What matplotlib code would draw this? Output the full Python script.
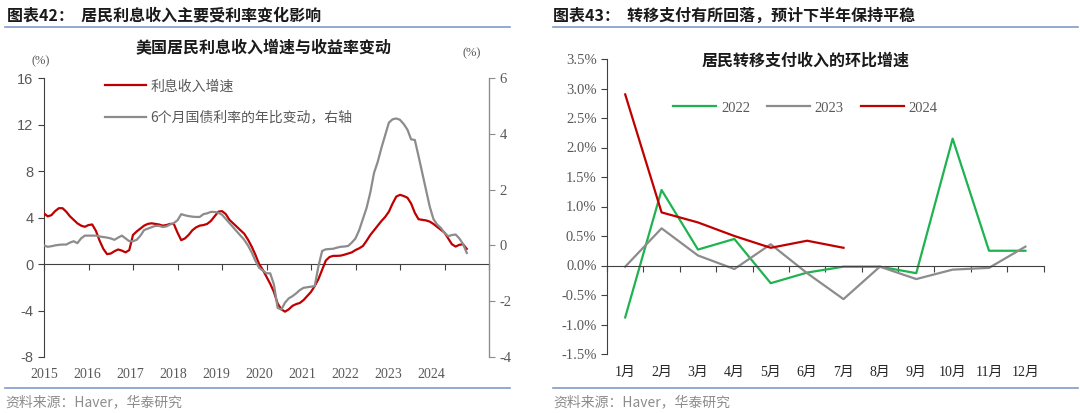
import matplotlib.pyplot as plt
import numpy as np
from matplotlib.lines import Line2D

plt.rcParams['font.family'] = ['Noto Sans CJK SC', 'DejaVu Sans']
plt.rcParams['axes.unicode_minus'] = False

# 左图: 美国居民利息收入增速与收益率变动 (月度, 2015-01 ~ 2024-07)
interest_growth = [
    4.35, 4.1, 4.2, 4.55, 4.8, 4.8, 4.5, 4.1, 3.8, 3.5, 3.3, 3.2,
    3.35, 3.4, 2.85, 2.0, 1.3, 0.85, 0.9, 1.1, 1.25, 1.15, 1.0, 1.2,
    2.5, 2.8, 3.05, 3.3, 3.45, 3.5, 3.45, 3.4, 3.3, 3.35, 3.45, 3.45,
    2.7, 2.05, 2.2, 2.5, 2.9, 3.15, 3.3, 3.35, 3.45, 3.7, 4.1, 4.5,
    4.55, 4.3, 3.8, 3.5, 3.2, 2.9, 2.6, 2.1, 1.5, 0.8, 0.0, -0.5,
    -1.1, -1.7, -2.4, -3.4, -3.9, -4.1, -3.9, -3.6, -3.45, -3.35, -3.1, -2.75,
    -2.4, -1.9, -1.3, -0.5, 0.3, 0.6, 0.7, 0.7, 0.72, 0.8, 0.9, 1.0,
    1.2, 1.35, 1.55, 2.0, 2.5, 2.9, 3.3, 3.7, 4.05, 4.5, 5.2, 5.8,
    5.95, 5.85, 5.7, 5.2, 4.4, 3.85, 3.8, 3.75, 3.65, 3.45, 3.2, 2.95,
    2.7, 2.2, 1.7, 1.5, 1.65, 1.7, 1.3,
]
bill6m_yoy = [
    0.0, -0.05, -0.03, 0.0, 0.02, 0.03, 0.03, 0.1, 0.15, 0.08, 0.25, 0.35,
    0.35, 0.35, 0.35, 0.32, 0.3, 0.28, 0.25, 0.2, 0.28, 0.35, 0.25, 0.15,
    0.15, 0.2, 0.35, 0.55, 0.6, 0.65, 0.7, 0.7, 0.66, 0.68, 0.75, 0.8,
    0.9, 1.12, 1.08, 1.05, 1.03, 1.02, 1.02, 1.12, 1.15, 1.2, 1.2, 1.17,
    1.1, 0.95, 0.8, 0.65, 0.5, 0.35, 0.2, 0.0, -0.25, -0.55, -0.8, -0.9,
    -1.0, -1.0, -1.4, -2.24, -2.3, -2.05, -1.9, -1.82, -1.72, -1.6, -1.52, -1.5,
    -1.48, -1.46, -0.75, -0.2, -0.14, -0.13, -0.12, -0.08, -0.05, -0.04, -0.02, 0.1,
    0.25, 0.55, 0.95, 1.35, 1.9, 2.6, 3.0, 3.5, 3.95, 4.4, 4.52, 4.55,
    4.5, 4.35, 4.15, 3.8, 3.78, 3.2, 2.6, 2.0, 1.4, 0.95, 0.75, 0.63,
    0.45, 0.33, 0.37, 0.39, 0.25, 0.05, -0.27,
]
years = list(range(2015, 2025))

# 右图: 居民转移支付收入的环比增速 (%)
months = ['1月', '2月', '3月', '4月', '5月', '6月', '7月', '8月', '9月', '10月', '11月', '12月']
tr_2022 = [-0.88, 1.28, 0.27, 0.45, -0.3, -0.12, -0.02, -0.02, -0.13, 2.15, 0.25, 0.25]
tr_2023 = [-0.02, 0.63, 0.17, -0.06, 0.36, -0.13, -0.57, -0.02, -0.23, -0.07, -0.04, 0.32]
tr_2024 = [2.9, 0.9, 0.73, 0.5, 0.3, 0.42, 0.3]

RED = '#C00000'
GRAY = '#8C8C8C'
GREEN = '#1FB350'
TXT = '#595959'
SERIF = ['Liberation Serif', 'Noto Sans CJK SC']
SANS = ['Liberation Sans', 'Noto Sans CJK SC']

fig = plt.figure(figsize=(10.8, 4.13), dpi=100)

# 标题和分隔线
fig.text(7 / 1080, 1 - 16 / 413, '图表42：  居民利息收入主要受利率变化影响', fontsize=11.5,
         fontweight='bold', color='#1a1a1a', va='center', ha='left')
fig.text(553 / 1080, 1 - 16 / 413, '图表43：  转移支付有所回落，预计下半年保持平稳', fontsize=11.5,
         fontweight='bold', color='#1a1a1a', va='center', ha='left')
for x0, x1 in [(5, 510), (553, 1078)]:
    for yy in [27, 388]:
        fig.add_artist(Line2D([x0 / 1080, x1 / 1080], [1 - yy / 413] * 2,
                              color='#7F9CC8', lw=1.2))
fig.text(5 / 1080, 1 - 402 / 413, '资料来源：Haver，华泰研究', fontsize=10, color='#8C8C8C',
         va='center', ha='left')
fig.text(553 / 1080, 1 - 402 / 413, '资料来源：Haver，华泰研究', fontsize=10, color='#8C8C8C',
         va='center', ha='left')

# ---------------- 左图 ----------------
ax1 = fig.add_axes([44 / 1080, 1 - 357 / 413, 445 / 1080, 279 / 413])
ax2 = ax1.twinx()
t = 2015 + np.arange(len(interest_growth)) / 12
ax1.plot(t, interest_growth, color=RED, lw=1.6, label='利息收入增速', zorder=3)
ax2.plot(t, bill6m_yoy, color=GRAY, lw=1.6, label='6个月国债利率的年比变动，右轴')

ax1.set_xlim(2015, 2025)
ax1.set_ylim(-8, 16)
ax2.set_ylim(-4, 6)
ax1.set_yticks([-8, -4, 0, 4, 8, 12, 16])
ax2.set_yticks([-4, -2, 0, 2, 4, 6])
ax1.set_xticks(range(2015, 2026))
ax1.set_xticklabels([])
ax1.spines['bottom'].set_position(('data', 0))
for a in (ax1, ax2):
    a.spines['top'].set_visible(False)
ax1.spines['left'].set_color('#404040')
ax1.spines['bottom'].set_color('#404040')
ax2.spines['bottom'].set_visible(False)
ax2.spines['left'].set_visible(False)
ax2.spines['right'].set_color(GRAY)
ax1.tick_params(axis='x', length=4, color='#404040')
ax1.tick_params(axis='y', length=4, color='#404040', labelsize=10.5, labelcolor=TXT)
ax2.tick_params(axis='y', length=4, color=GRAY, labelsize=10.5, labelcolor=TXT)
for lab in ax1.get_yticklabels():
    lab.set_family(SANS)
for lab in ax2.get_yticklabels():
    lab.set_family(SERIF)
for i, y in enumerate(years):
    ax1.text(2015 + i * 0.966, -0.04, str(y), transform=ax1.get_xaxis_transform(),
             ha='center', va='top', fontsize=10, family=SERIF, color=TXT)
ax1.text(-0.008, 1.06, '(%)', transform=ax1.transAxes, ha='center', va='center',
         fontsize=9, color=TXT, family=SERIF)
ax2.text(0.96, 1.09, '(%)', transform=ax2.transAxes, ha='center', va='center',
         fontsize=9, color=TXT, family=SERIF)
ax1.text(0.493, 1.111, '美国居民利息收入增速与收益率变动', transform=ax1.transAxes,
         ha='center', va='center', fontsize=11.5, fontweight='bold', color='#1a1a1a')
h1, l1 = ax1.get_legend_handles_labels()
h2, l2 = ax2.get_legend_handles_labels()
leg = ax2.legend(h1 + h2, l1 + l2, loc='upper left', bbox_to_anchor=(0.11, 1.04),
                 frameon=False, handlelength=2.9, labelspacing=1.25, handletextpad=0.35,
                 fontsize=10)
for tx in leg.get_texts():
    tx.set_color(TXT)

# ---------------- 右图 ----------------
ax3 = fig.add_axes([607 / 1080, 1 - 354 / 413, 436.6 / 1080, 295 / 413])
x = np.arange(len(months))
ax3.plot(x, tr_2022, color=GREEN, lw=1.6, label='2022')
ax3.plot(x, tr_2023, color=GRAY, lw=1.6, label='2023')
ax3.plot(np.arange(len(tr_2024)), tr_2024, color=RED, lw=1.6, label='2024')
ax3.set_xlim(-0.5, 11.5)
ax3.set_ylim(-1.5, 3.5)
ax3.set_yticks(np.arange(-1.5, 3.51, 0.5))
ax3.set_yticklabels([f'{v:.1f}%' for v in np.arange(-1.5, 3.51, 0.5)])
ax3.set_xticks(np.arange(-0.5, 11.6, 1))
ax3.set_xticklabels([])
ax3.spines['bottom'].set_position(('data', 0))
ax3.spines['top'].set_visible(False)
ax3.spines['right'].set_visible(False)
ax3.spines['left'].set_color('#404040')
ax3.spines['bottom'].set_color('#404040')
ax3.tick_params(axis='x', length=4, color='#404040')
ax3.tick_params(axis='y', length=4, color='#404040', labelsize=10.5, labelcolor=TXT)
for lab in ax3.get_yticklabels():
    lab.set_family(SERIF)
for i, m in enumerate(months):
    ax3.text(i, -0.04, m, transform=ax3.get_xaxis_transform(), ha='center', va='top',
             fontsize=10, family=SERIF, color='#262626')
ax3.text(0.455, 0.995, '居民转移支付收入的环比增速', transform=ax3.transAxes,
         ha='center', va='center', fontsize=11.5, fontweight='bold', color='#1a1a1a')
leg3 = ax3.legend(loc='center', bbox_to_anchor=(0.455, 0.834), ncol=3, frameon=False,
                  handlelength=2.9, handletextpad=0.35, columnspacing=1.2,
                  prop={'family': SERIF, 'size': 10.5})
for tx in leg3.get_texts():
    tx.set_color(TXT)

fig.savefig('out.png', dpi=100)
